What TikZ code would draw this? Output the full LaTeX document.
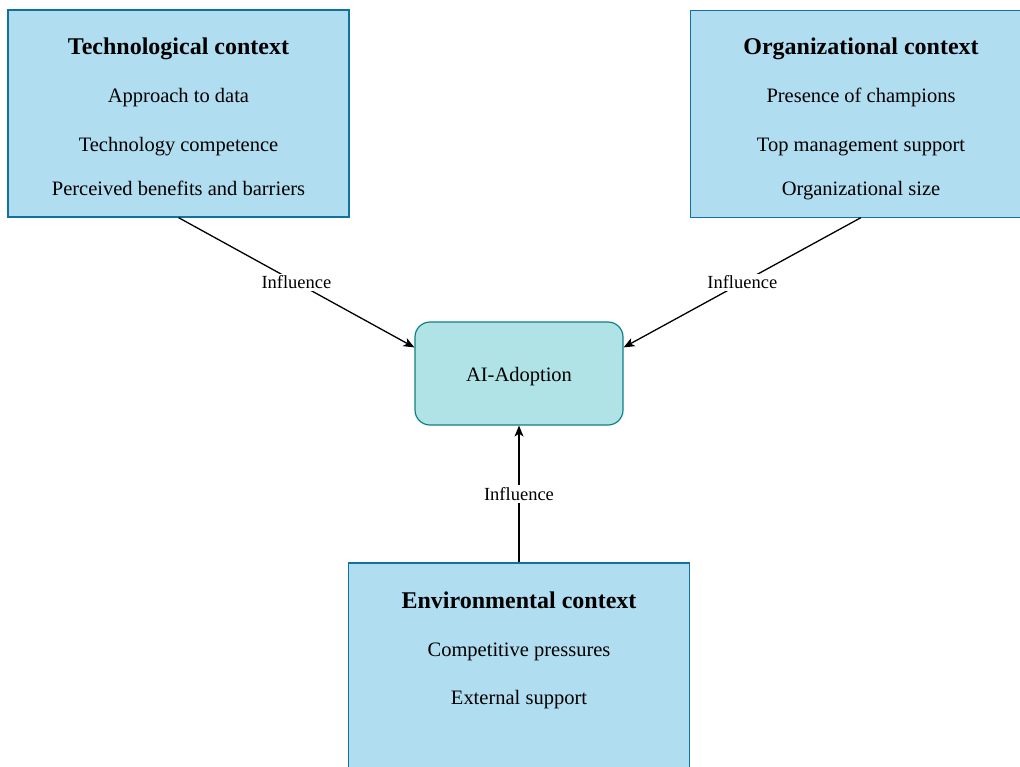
\documentclass[tikz,border=0pt]{standalone}
\usepackage{fontspec}
\setmainfont{Liberation Serif}
\usetikzlibrary{positioning,arrows.meta}

\definecolor{ctxfill}{HTML}{B1DDF0}
\definecolor{ctxline}{HTML}{10739E}
\definecolor{aifill}{HTML}{B0E3E6}
\definecolor{ailine}{HTML}{0E8088}

\tikzset{
  ctxbox/.style={draw=ctxline,fill=ctxfill,line width=1.2pt,
    minimum width=341pt,minimum height=207pt,inner sep=0pt},
  aibox/.style={draw=ailine,fill=aifill,line width=1.2pt,rounded corners=15pt,
    minimum width=208pt,minimum height=103pt,inner sep=0pt},
  ctxtitle/.style={anchor=base,font=\fontsize{24}{28}\selectfont\bfseries},
  ctxitem/.style={anchor=base,font=\fontsize{20.5}{24}\selectfont},
  inflabel/.style={fill=white,inner sep=2pt,font=\fontsize{18.5}{22}\selectfont}
}

\begin{document}
\begin{tikzpicture}[x=1pt,y=-1pt]
  \useasboundingbox (0,0) rectangle (1020,766);
  \clip (0,0) rectangle (1020,766);

  % context boxes
  \node[ctxbox] (tech) at (178.5,113.5) {};
  \node[ctxbox] (org) at (861,114) {};
  \node[ctxbox,minimum height=260pt] (env) at (519,693) {};
  \node[aibox] (ai) at (519,373.5) {};

  \node[ctxtitle] (techtitle) at (178.5,54) {Technological context};
  \node[ctxitem] (tech1) at (178.5,102) {Approach to data};
  \node[ctxitem] (tech2) at (178.5,151) {Technology competence};
  \node[ctxitem] (tech3) at (178.5,195) {Perceived benefits and barriers};

  \node[ctxtitle] (orgtitle) at (861,54) {Organizational context};
  \node[ctxitem] (org1) at (861,102) {Presence of champions};
  \node[ctxitem] (org2) at (861,151) {Top management support};
  \node[ctxitem] (org3) at (861,195) {Organizational size};

  \node[ctxtitle] (envtitle) at (519,608) {Environmental context};
  \node[ctxitem] (env1) at (519,656) {Competitive pressures};
  \node[ctxitem] (env2) at (519,704) {External support};

  \node[ctxitem] (aitext) at (519,381) {AI-Adoption};

  \path[-{Stealth[length=11pt,width=9pt,inset=3pt]},line width=1.3pt]
    (tech.south) edge node [inflabel] {Influence} (ai.166)
    (org.south |- tech.south) edge node [inflabel] {Influence} (ai.14)
    (env.north) edge node [inflabel] {Influence} (ai.south);

\end{tikzpicture}
\end{document}
